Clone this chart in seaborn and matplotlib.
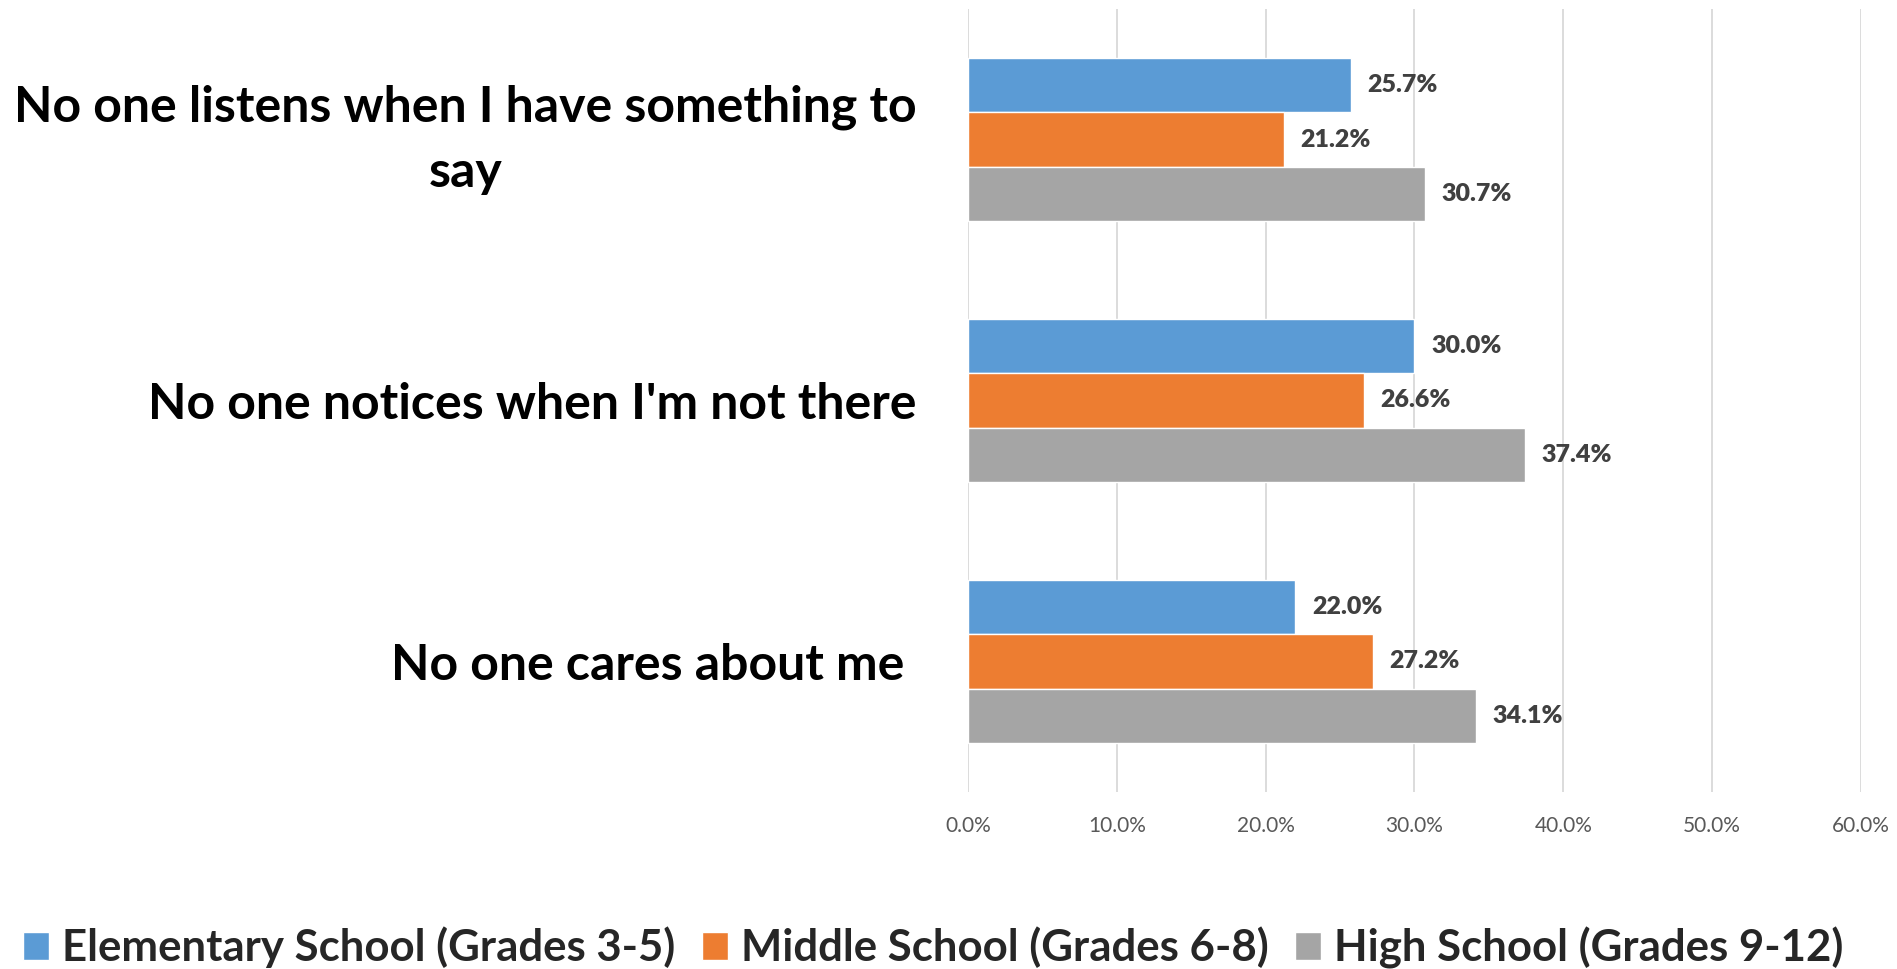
import pandas as pd
import seaborn as sns
import matplotlib.pyplot as plt
from matplotlib.ticker import PercentFormatter

statements = ['No one listens when I have something to\nsay',
              "No one notices when I'm not there",
              'No one cares about me ']
groups = ['Elementary School (Grades 3-5)', 'Middle School (Grades 6-8)', 'High School (Grades 9-12)']
elementary = [25.7, 30.0, 22.0]
middle = [21.2, 26.6, 27.2]
high = [30.7, 37.4, 34.1]
xticks = [0, 10, 20, 30, 40, 50, 60]

rows = []
for i, s in enumerate(statements):
    for g, vals in zip(groups, [elementary, middle, high]):
        rows.append({'statement': s, 'group': g, 'pct': vals[i]})
df = pd.DataFrame(rows)

sns.set_style('white')
plt.rcParams['font.family'] = ['Lato', 'DejaVu Sans']

fig = plt.figure(figsize=(18.97, 9.69), dpi=100)
ax = fig.add_axes([0.5103, 0.1827, 0.4707, 0.808])

palette = ['#5B9BD5', '#ED7D31', '#A5A5A5']
sns.barplot(data=df, y='statement', x='pct', hue='group', palette=palette,
            orient='h', width=0.625, gap=0, saturation=1, ax=ax, legend=True)

for cont in ax.containers:
    ax.bar_label(cont, labels=[f'{v:.1f}%' for v in cont.datavalues], padding=12,
                 fontsize=18, fontweight='heavy', color='#404040')

ax.set_xlim(0, 60)
ax.set_xticks(xticks)
ax.xaxis.set_major_formatter(PercentFormatter(decimals=1))
ax.grid(axis='x', color='#D9D9D9', linewidth=1.3)
ax.set_axisbelow(True)
for sp in ax.spines.values():
    sp.set_visible(False)
ax.set_xlabel('')
ax.set_ylabel('')
ax.tick_params(axis='x', labelsize=15, labelcolor='#595959', length=0, pad=17)
ax.tick_params(axis='y', length=0, pad=37, labelcolor='black')
for lab in ax.get_yticklabels():
    lab.set_fontsize(36)
    lab.set_fontweight('bold')
    lab.set_multialignment('center')
    lab.set_linespacing(1.55)
    if '\n' in lab.get_text():
        lab.set_va('center')

handles, labels = ax.get_legend_handles_labels()
ax.get_legend().remove()
fig.legend(handles, labels, loc='center', bbox_to_anchor=(0.492, 0.022), ncol=3,
           frameon=False, prop={'size': 31.5, 'weight': 'bold'}, handlelength=0.6,
           handleheight=0.6, handletextpad=0.3, columnspacing=0.6)

fig.savefig('out.png', dpi=100)
